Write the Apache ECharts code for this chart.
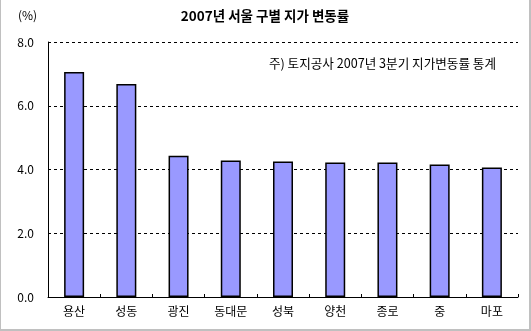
<!DOCTYPE html>
<html><head><meta charset="utf-8">
<script src="https://cdn.jsdelivr.net/npm/echarts@6/dist/echarts.min.js"></script>
<style>html,body{margin:0;padding:0;background:#fff}#c{width:531px;height:331px;box-sizing:border-box;border-left:1px solid #c0c0c0;border-right:2px solid #c0c0c0;border-bottom:2px solid #c0c0c0}</style>
</head><body><div id="c"></div>
<script>
const categories = ['용산','성동','광진','동대문','성북','양천','종로','중','마포'];
const values = [7.06, 6.68, 4.43, 4.28, 4.25, 4.22, 4.22, 4.16, 4.06];
const yTicks = [0, 2, 4, 6, 8];
const titleText = '2007년 서울 구별 지가 변동률';
const unitText = '(%)';
const noteText = '주) 토지공사 2007년 3분기 지가변동률 통계';
const FONT = '"Noto Sans CJK KR", sans-serif';
const chart = echarts.init(document.getElementById('c'), null, {renderer:'canvas'});
chart.setOption({
  animation:false,
  textStyle:{fontFamily:FONT},
  title:{text:titleText,left:'center',top:9,padding:0,textStyle:{fontFamily:FONT,fontSize:13.5,fontWeight:'bold',color:'#000'}},
  graphic:[
    {type:'text',left:17,top:9,style:{text:unitText,font:'12px '+FONT,fill:'#000'}},
    {type:'text',right:33,top:57,style:{text:noteText,font:'12.6px '+FONT,fill:'#000'}}
  ],
  grid:{left:47,right:11,top:42,bottom:32,containLabel:false},
  xAxis:{type:'category',data:categories,
    axisLine:{lineStyle:{color:'#000',width:1}},
    axisTick:{show:true,inside:true,length:3,lineStyle:{color:'#000'}},
    axisLabel:{color:'#000',fontSize:12,fontFamily:FONT,margin:8}},
  yAxis:{type:'value',min:yTicks[0],max:yTicks[yTicks.length-1],interval:2,
    axisLine:{show:true,lineStyle:{color:'#000',width:1}},
    axisTick:{show:false},
    axisLabel:{color:'#000',fontSize:12,fontFamily:FONT,margin:14,formatter:v=>v.toFixed(1)},
    splitLine:{show:true,lineStyle:{color:'#000',type:[3,3],width:1}}},
  series:[{type:'bar',data:values,barWidth:20,
    itemStyle:{color:'#9999ff',borderColor:'#000',borderWidth:1.5}}]
});
</script></body></html>
